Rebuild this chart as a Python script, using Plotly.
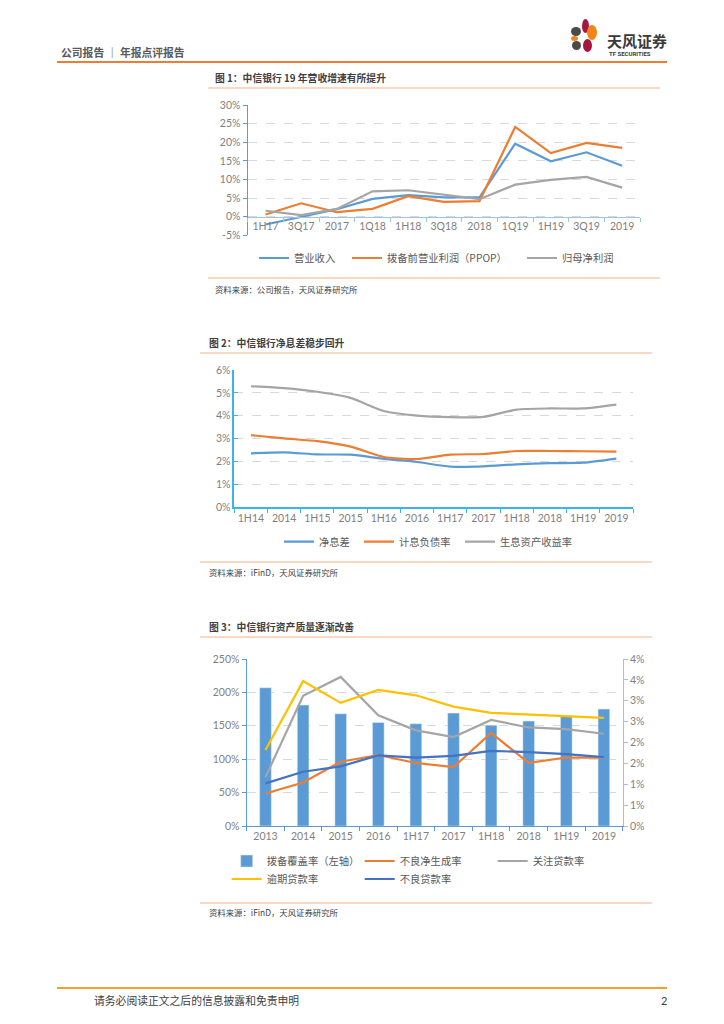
import plotly.graph_objects as go

W, H = 724, 1024
OFF = 8  # page body margin of the html page

# ========== DATA ==========
# Fig 1: revenue / PPOP / net profit growth (%)
c1_periods = ["1H17", "3Q17", "2017", "1Q18", "1H18", "3Q18", "2018", "1Q19", "1H19", "3Q19", "2019"]
c1_revenue = [-2.1, -0.1, 2.0, 4.8, 5.8, 5.2, 5.2, 19.6, 14.9, 17.3, 13.7]
c1_ppop = [0.6, 3.6, 1.2, 2.1, 5.5, 4.0, 4.2, 24.1, 17.1, 19.8, 18.5]
c1_net_profit = [1.6, 0.4, 2.1, 6.8, 7.1, 5.9, 4.7, 8.6, 9.9, 10.7, 7.8]
c1_ticks = [-5, 0, 5, 10, 15, 20, 25, 30]
c1_tick_labels = ["-5%", "0%", "5%", "10%", "15%", "20%", "25%", "30%"]

# Fig 2: NIM / cost of liabilities / asset yield (%)
c2_periods = ["1H14", "2014", "1H15", "2015", "1H16", "2016", "1H17", "2017", "1H18", "2018", "1H19", "2019"]
c2_nim = [2.36, 2.40, 2.31, 2.30, 2.12, 1.98, 1.78, 1.79, 1.88, 1.93, 1.95, 2.13]
c2_liab_cost = [3.15, 3.01, 2.89, 2.65, 2.20, 2.11, 2.30, 2.33, 2.46, 2.46, 2.45, 2.43]
c2_asset_yield = [5.29, 5.21, 5.05, 4.78, 4.21, 4.01, 3.94, 3.95, 4.27, 4.32, 4.32, 4.49]
c2_ticks = [0, 1, 2, 3, 4, 5, 6]
c2_tick_labels = ["0%", "1%", "2%", "3%", "4%", "5%", "6%"]

# Fig 3: asset quality (coverage on left axis, ratios on right axis, %)
c3_periods = ["2013", "2014", "2015", "2016", "1H17", "2017", "1H18", "2018", "1H19", "2019"]
c3_coverage = [207, 181, 168, 155, 153, 169, 151, 157, 165, 175]
c3_npl_formation = [0.78, 1.04, 1.54, 1.70, 1.51, 1.41, 2.23, 1.51, 1.64, 1.64]
c3_special_mention = [1.17, 3.12, 3.57, 2.65, 2.29, 2.13, 2.54, 2.36, 2.32, 2.21]
c3_overdue = [1.82, 3.47, 2.95, 3.26, 3.13, 2.86, 2.71, 2.67, 2.63, 2.59]
c3_npl = [1.02, 1.30, 1.43, 1.69, 1.64, 1.68, 1.80, 1.77, 1.72, 1.65]
c3_left_ticks = [0, 50, 100, 150, 200, 250]
c3_left_labels = ["0%", "50%", "100%", "150%", "200%", "250%"]
c3_right_ticks = [0, 0.5, 1, 1.5, 2, 2.5, 3, 3.5, 4]
c3_right_labels = ["0%", "1%", "1%", "2%", "2%", "3%", "3%", "4%", "4%"]

BLUE = "#5B9BD5"
ORANGE = "#ED7D31"
GREY = "#A5A5A5"
YELLOW = "#FFC000"
DARK_BLUE = "#4472C4"
TICK_FONT = dict(family="Lato, Noto Sans CJK SC", size=10.5, color="#7F7F7F")
LEG_FONT = dict(family="Noto Sans CJK SC", size=10.3, color="#595959")
CJK = "Noto Sans CJK SC"


def px(x):
    return (x - OFF) / W


def py(y):
    return 1 - (y - OFF) / H


fig = go.Figure()

# ========== FIG 1 ==========
for name, vals, col, lw in [("营业收入", c1_revenue, BLUE, 48),
                            ("拨备前营业利润（PPOP）", c1_ppop, ORANGE, 130),
                            ("归母净利润", c1_net_profit, GREY, 60)]:
    fig.add_trace(go.Scatter(x=c1_periods, y=vals, name=name, mode="lines",
                             line=dict(color=col, width=2.2), xaxis="x", yaxis="y",
                             legend="legend", legendwidth=lw))

# ========== FIG 2 ==========
for name, vals, col, lw in [("净息差", c2_nim, BLUE, 35),
                            ("计息负债率", c2_liab_cost, ORANGE, 56),
                            ("生息资产收益率", c2_asset_yield, GREY, 80)]:
    fig.add_trace(go.Scatter(x=c2_periods, y=vals, name=name, mode="lines",
                             line=dict(color=col, width=2.2, shape="spline", smoothing=0.6),
                             xaxis="x2", yaxis="y2", legend="legend2", legendwidth=lw))

# ========== FIG 3 ==========
fig.add_trace(go.Bar(x=c3_periods, y=c3_coverage, name="拨备覆盖率（左轴）", marker_color=BLUE,
                     width=0.31, xaxis="x3", yaxis="y3", legend="legend3", legendwidth=88))
for name, vals, col, leg in [("不良净生成率", c3_npl_formation, ORANGE, "legend3"),
                             ("关注贷款率", c3_special_mention, GREY, "legend3"),
                             ("逾期贷款率", c3_overdue, YELLOW, "legend4"),
                             ("不良贷款率", c3_npl, DARK_BLUE, "legend4")]:
    fig.add_trace(go.Scatter(x=c3_periods, y=vals, name=name, mode="lines",
                             line=dict(color=col, width=2.2), xaxis="x3", yaxis="y4",
                             legend=leg, legendwidth=88))

grid = dict(showgrid=True, gridcolor="#D9D9D9", griddash="dash", gridwidth=1, zeroline=False)
cat_axis = dict(type="category", showline=True, ticks="outside", tickson="boundaries",
                ticklen=4, showgrid=False, zeroline=False, tickfont=TICK_FONT, tickangle=0)
leg_common = dict(orientation="h", xanchor="left", yanchor="middle", font=LEG_FONT,
                  bgcolor="rgba(0,0,0,0)", traceorder="normal", itemwidth=30)

# ========== TEXT & DECORATION ==========
annotations = [
    dict(text="<b>公司报告 ｜ 年报点评报告</b>", x=px(59), y=py(51.5), font=dict(family=CJK, size=10.8, color="#595959")),
    dict(text="<b>天风证券</b>", x=px(605), y=py(40), font=dict(family=CJK, size=15, color="#3A3A3A")),
    dict(text="<b>TF SECURITIES</b>", x=px(607), y=py(53), font=dict(family="Roboto", size=6, color="#3A3A3A")),
    dict(text="<b>图 1：中信银行 19 年营收增速有所提升</b>", x=px(213), y=py(78), font=dict(family=CJK, size=9.8, color="#404040")),
    dict(text="资料来源：公司报告，天风证券研究所", x=px(213), y=py(289), font=dict(family=CJK, size=8.4, color="#404040")),
    dict(text="<b>图 2：中信银行净息差稳步回升</b>", x=px(207), y=py(343), font=dict(family=CJK, size=9.8, color="#404040")),
    dict(text="资料来源：iFinD，天风证券研究所", x=px(207), y=py(572), font=dict(family=CJK, size=8.4, color="#404040")),
    dict(text="<b>图 3：中信银行资产质量逐渐改善</b>", x=px(207), y=py(627), font=dict(family=CJK, size=9.8, color="#404040")),
    dict(text="资料来源：iFinD，天风证券研究所", x=px(207), y=py(912), font=dict(family=CJK, size=8.4, color="#404040")),
    dict(text="请务必阅读正文之后的信息披露和免责申明", x=px(92), y=py(1000), font=dict(family=CJK, size=10.8, color="#404040")),
    dict(text="2", x=px(659), y=py(1000), font=dict(family="Lato", size=11, color="#404040")),
]
for a in annotations:
    a.update(xref="paper", yref="paper", xanchor="left", yanchor="middle", showarrow=False)


def hline(x0, x1, y, color, width):
    return dict(type="line", xref="paper", yref="paper", x0=px(x0), x1=px(x1),
                y0=py(y), y1=py(y), line=dict(color=color, width=width))


def blob(x0, x1, y0, y1, color):
    return dict(type="circle", xref="paper", yref="paper", x0=px(x0), x1=px(x1),
                y0=py(y1), y1=py(y0), fillcolor=color, line=dict(width=0))


shapes = [
    hline(57, 667, 62, "#ED7D31", 2),
    hline(208, 660, 88, "#F8CBAD", 1.5),
    hline(208, 660, 278, "#F4B183", 1),
    hline(200, 652, 353, "#F8CBAD", 1.5),
    hline(200, 652, 562, "#F4B183", 1),
    hline(200, 652, 637, "#F8CBAD", 1.5),
    hline(200, 652, 903, "#F4B183", 1),
    hline(57, 667, 988, "#F0A030", 2),
    # logo petals
    blob(582, 589, 19, 33, "#A8163F"),
    blob(587, 597, 25, 40, "#F08519"),
    blob(571, 581, 27, 36, "#4A4A4A"),
    blob(571, 578, 36, 41, "#F08519"),
    blob(572, 581, 41, 50, "#4A4A4A"),
    blob(583, 592, 39, 52, "#A8163F"),
]

fig.update_layout(
    width=W, height=H, margin=dict(l=0, r=0, t=0, b=0, autoexpand=False),
    paper_bgcolor="white", plot_bgcolor="white", showlegend=True,
    font=dict(family=CJK),
    xaxis=dict(cat_axis, domain=[px(247.7), px(640)], anchor="free", position=py(216.7),
               range=[-0.5, 10.5], linecolor="#9DC3E6", linewidth=1.3, tickcolor="#9DC3E6"),
    yaxis=dict(grid, domain=[py(235.3), py(105)], anchor="x", range=[-5, 30],
               tickvals=c1_ticks, ticktext=c1_tick_labels, showline=True, linecolor="#5B9BD5",
               linewidth=1.3, ticks="outside", ticklen=4, tickcolor="#5B9BD5", tickfont=TICK_FONT),
    xaxis2=dict(cat_axis, domain=[px(234.3), px(633)], anchor="y2", range=[-0.5, 11.5],
                linecolor="#3CB4E8", linewidth=1.5, tickcolor="#3CB4E8"),
    yaxis2=dict(grid, domain=[py(507.3), py(370)], anchor="x2", range=[0, 6],
                tickvals=c2_ticks, ticktext=c2_tick_labels, showline=True, linecolor="#3CB4E8",
                linewidth=1.5, ticks="inside", ticklen=4, tickcolor="#3CB4E8", tickfont=TICK_FONT),
    xaxis3=dict(cat_axis, domain=[px(246.7), px(622.7)], anchor="y3", range=[-0.5, 9.5],
                linecolor="#5B9BD5", linewidth=1.3, tickcolor="#5B9BD5"),
    yaxis3=dict(grid, domain=[py(826), py(659)], anchor="x3", range=[0, 250],
                tickvals=c3_left_ticks, ticktext=c3_left_labels, showline=True, linecolor="#5B9BD5",
                linewidth=1.3, ticks="outside", ticklen=4, tickcolor="#5B9BD5", tickfont=TICK_FONT),
    yaxis4=dict(overlaying="y3", side="right", anchor="x3", range=[0, 4],
                tickvals=c3_right_ticks, ticktext=c3_right_labels, showgrid=False, zeroline=False,
                showline=True, linecolor="#9DC3E6", linewidth=1.3, ticks="outside", ticklen=4,
                tickcolor="#9DC3E6", tickfont=TICK_FONT),
    legend=dict(leg_common, x=px(254), y=py(258)),
    legend2=dict(leg_common, x=px(279), y=py(541.7)),
    legend3=dict(leg_common, x=px(226.7), y=py(861)),
    legend4=dict(leg_common, x=px(226.7), y=py(879)),
    bargap=0.69,
    annotations=annotations,
    shapes=shapes,
)

fig.write_html("out.html")
